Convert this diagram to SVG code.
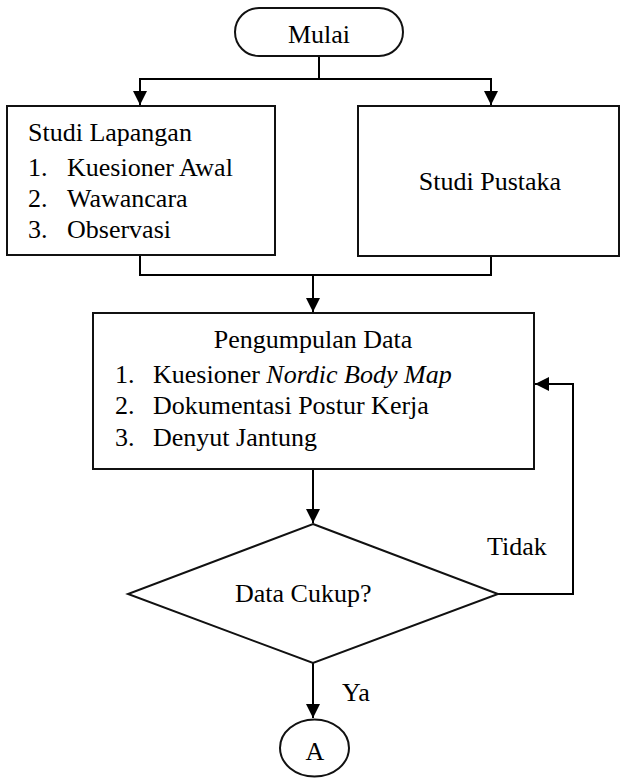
<svg xmlns="http://www.w3.org/2000/svg" width="620" height="778" viewBox="0 0 620 778">
<style>
.shape{fill:#fff;stroke:#111;stroke-width:2}
.line{fill:none;stroke:#000;stroke-width:2}
.mid{text-anchor:middle}
</style>
<defs>
<marker id="arr" viewBox="0 0 14 14" refX="14" refY="7" markerWidth="14" markerHeight="14" markerUnits="userSpaceOnUse" orient="auto">
<path d="M0,0 L14,7 L0,14 Z" fill="#000"/>
</marker>
</defs>
<rect width="620" height="778" fill="#fff"/>
<g id="connectors">
<path class="line" d="M319,56 V79"/>
<path class="line" d="M319,79 H140 V105" marker-end="url(#arr)"/>
<path class="line" d="M319,79 H491 V105" marker-end="url(#arr)"/>
<path class="line" d="M140,255 V275 H491 V256"/>
<path class="line" d="M313,275 V312" marker-end="url(#arr)"/>
<path class="line" d="M313,469 V523" marker-end="url(#arr)"/>
<path class="line" d="M498,594 H573 V384 H535" marker-end="url(#arr)"/>
<path class="line" d="M313,663 V718" marker-end="url(#arr)"/>
</g>
<g font-family="Liberation Serif, Tinos, Times New Roman, DejaVu Serif, serif" font-size="26" fill="#000">
<g id="mulai">
<rect class="shape" x="235" y="8" width="168" height="48" rx="24" ry="24"/>
<text class="mid" x="319" y="43">Mulai</text>
</g>
<g id="studi-lapangan">
<rect class="shape" x="7" y="106" width="268" height="149"/>
<text x="28" y="141">Studi Lapangan</text>
<text x="28" y="176">1.</text><text x="67" y="176">Kuesioner Awal</text>
<text x="28" y="207">2.</text><text x="67" y="207">Wawancara</text>
<text x="28" y="238">3.</text><text x="67" y="238">Observasi</text>
</g>
<g id="studi-pustaka">
<rect class="shape" x="358" y="106" width="261" height="150"/>
<text class="mid" x="490" y="190">Studi Pustaka</text>
</g>
<g id="pengumpulan-data">
<rect class="shape" x="93" y="313" width="441" height="156"/>
<text class="mid" x="313" y="348">Pengumpulan Data</text>
<text x="115" y="383">1.</text><text x="153" y="383">Kuesioner <tspan font-style="italic">Nordic Body Map</tspan></text>
<text x="115" y="414">2.</text><text x="153" y="414">Dokumentasi Postur Kerja</text>
<text x="115" y="446">3.</text><text x="153" y="446">Denyut Jantung</text>
</g>
<g id="data-cukup">
<polygon class="shape" points="313,524 498,594 313,663 128,594"/>
<text x="235" y="602">Data Cukup?</text>
</g>
<g id="labels">
<text x="487" y="555">Tidak</text>
<text x="342" y="701">Ya</text>
</g>
<g id="connector-a">
<ellipse class="shape" cx="314.5" cy="748" rx="34.5" ry="28.5"/>
<text class="mid" x="315" y="760">A</text>
</g>
</g>
</svg>
